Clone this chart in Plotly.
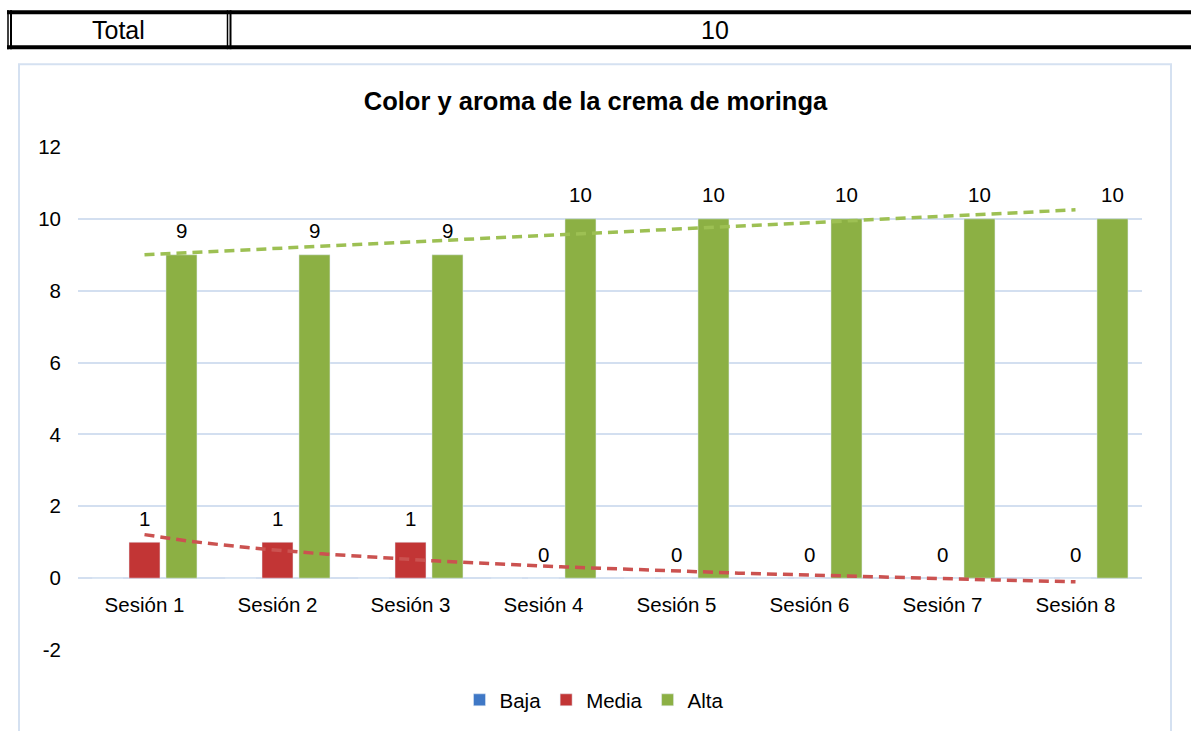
import numpy as np
import plotly.graph_objects as go

# --- data -------------------------------------------------------------
sessions = ["Sesión 1", "Sesión 2", "Sesión 3", "Sesión 4",
            "Sesión 5", "Sesión 6", "Sesión 7", "Sesión 8"]
baja = [0, 0, 0, 0, 0, 0, 0, 0]
media = [1, 1, 1, 0, 0, 0, 0, 0]
alta = [9, 9, 9, 10, 10, 10, 10, 10]
y_ticks = [-2, 0, 2, 4, 6, 8, 10, 12]
table_label = "Total"
table_value = "10"
title_text = "Color y aroma de la crema de moringa"

# --- geometry / style ---------------------------------------------------
W, H = 1191, 731
ML, MR, MT, MB = 78, 49, 147, 80
PW, PH = W - ML - MR, H - MT - MB
FONT = "Arial, Liberation Sans, sans-serif"
C_BAJA = "#3f78c6"
C_MEDIA = "#c23535"
C_ALTA = "#8cb044"
C_MEDIA_TR = "#cb5250"
C_ALTA_TR = "#9dc053"
GRID = "#d3dff0"
BARGAP, GROUPGAP = 0.166, 0.162
slot = (1 - BARGAP) / 3


def pxx(p):
    return (p - ML) / PW


def pxy(p):
    return (H - MB - p) / PH


x = np.arange(len(sessions))
n = x + 1  # session number used by the trendlines

fig = go.Figure()
fig.add_trace(go.Bar(x=x, y=baja, name="Baja", marker_color=C_BAJA))
fig.add_trace(go.Bar(x=x, y=media, name="Media", marker_color=C_MEDIA))
fig.add_trace(go.Bar(x=x, y=alta, name="Alta", marker_color=C_ALTA))

# trendlines: logarithmic for Media, linear for Alta
xs = np.linspace(0, len(sessions) - 1, 200)
b_log, a_log = np.polyfit(np.log(n), media, 1)
fig.add_trace(go.Scatter(x=xs, y=a_log + b_log * np.log(xs + 1), mode="lines",
                         line=dict(color=C_MEDIA_TR, width=3.5, dash="10px,6px"),
                         showlegend=False, hoverinfo="skip"))
m_lin, c_lin = np.polyfit(n, alta, 1)
fig.add_trace(go.Scatter(x=xs, y=c_lin + m_lin * (xs + 1), mode="lines",
                         line=dict(color=C_ALTA_TR, width=3.5, dash="10px,6px"),
                         showlegend=False, hoverinfo="skip"))

annotations = []
# value labels above the bars
for i in range(len(sessions)):
    for val, off in ((media[i], 0.0), (alta[i], slot)):
        annotations.append(dict(x=x[i] + off, y=val, xref="x", yref="y",
                                text=str(val), showarrow=False,
                                xanchor="center", yanchor="middle", yshift=24,
                                font=dict(family=FONT, size=20.5, color="#000")))

# table row above the chart
annotations.append(dict(x=pxx(118), y=pxy(30), xref="paper", yref="paper",
                        text=table_label, showarrow=False,
                        xanchor="center", yanchor="middle",
                        font=dict(family=FONT, size=25, color="#000")))
annotations.append(dict(x=pxx(715), y=pxy(30), xref="paper", yref="paper",
                        text=table_value, showarrow=False,
                        xanchor="center", yanchor="middle",
                        font=dict(family=FONT, size=25, color="#000")))

shapes = []


def hline(y, x0, x1, w, color="#000"):
    shapes.append(dict(type="line", xref="paper", yref="paper",
                       x0=pxx(x0), x1=pxx(x1), y0=pxy(y), y1=pxy(y),
                       line=dict(color=color, width=w)))


def vline(xp, y0, y1, w, color="#000"):
    shapes.append(dict(type="line", xref="paper", yref="paper",
                       x0=pxx(xp), x1=pxx(xp), y0=pxy(y0), y1=pxy(y1),
                       line=dict(color=color, width=w)))


hline(12, 7, 1200, 4)
hline(47, 7, 1200, 4)
vline(8, 10, 49, 1.5)
vline(11, 10, 49, 2)
vline(227.5, 10, 49, 1.5)
vline(230.5, 10, 49, 2)

# chart frame
shapes.append(dict(type="rect", xref="paper", yref="paper",
                   x0=pxx(19), x1=pxx(1171), y0=pxy(64), y1=pxy(745),
                   line=dict(color="#d5e1f1", width=2), layer="below"))

fig.update_layout(
    width=W, height=H,
    margin=dict(l=ML, r=MR, t=MT, b=MB),
    paper_bgcolor="white", plot_bgcolor="white",
    barmode="group", bargap=BARGAP, bargroupgap=GROUPGAP,
    font=dict(family=FONT, size=20.5, color="#000"),
    title=dict(text=f"<b>{title_text}</b>", x=0.5, xref="container",
               y=1 - 101 / H, yref="container", yanchor="middle",
               font=dict(family=FONT, size=25.5, color="#000")),
    xaxis=dict(range=[-0.5, len(sessions) - 0.5], tickvals=x, ticktext=sessions,
               showgrid=False, zeroline=False, showline=False, ticks="",
               anchor="free", position=pxy(579), ticklabelstandoff=12,
               tickfont=dict(size=20.5)),
    yaxis=dict(range=[-2, 12], tickvals=y_ticks,
               ticktext=[str(v) for v in y_ticks],
               showgrid=True, gridcolor=GRID,
               gridwidth=2, zeroline=True, zerolinecolor=GRID, zerolinewidth=2,
               showline=False, ticks="", ticklabelstandoff=16,
               tickfont=dict(size=20.5)),
    legend=dict(orientation="h", x=pxx(594), xanchor="center",
                y=pxy(700), yanchor="middle", font=dict(size=20.5),
                itemwidth=30, traceorder="normal"),
    annotations=annotations,
    shapes=shapes,
    showlegend=True,
)

fig.write_html("out.html")
